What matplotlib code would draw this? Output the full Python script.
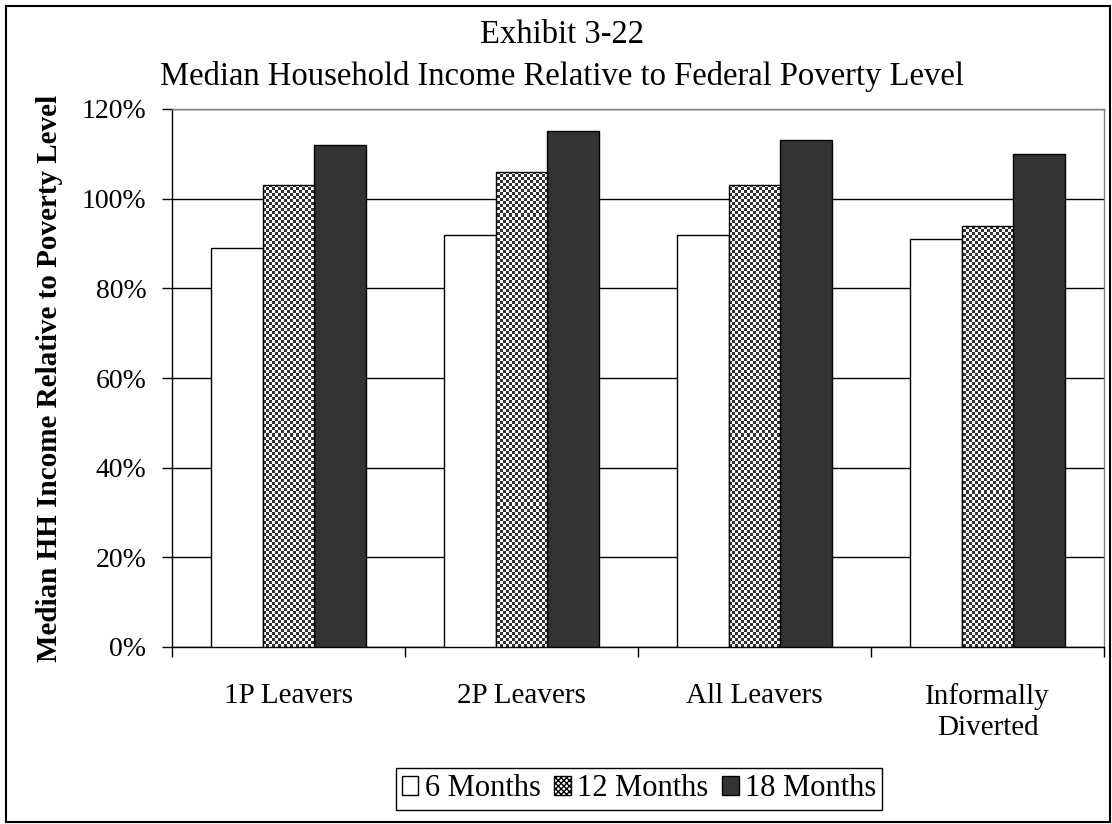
import numpy as np
import matplotlib
matplotlib.use("Agg")
import matplotlib.pyplot as plt
from matplotlib.lines import Line2D
from matplotlib.patches import Patch

# data (percent of federal poverty level)
categories = ["1P Leavers", "2P Leavers", "All Leavers", "Informally\nDiverted"]
series_names = ["6 Months", "12 Months", "18 Months"]
months_6 = [89, 92, 92, 91]
months_12 = [103, 106, 103, 94]
months_18 = [112, 115, 113, 110]
y_ticks = [0, 20, 40, 60, 80, 100, 120]

plt.rcParams['font.family'] = ['Liberation Serif', 'DejaVu Serif']
plt.rcParams['hatch.linewidth'] = 1.0
plt.rcParams['hatch.color'] = '#333333'

W, H = 1112, 824
fig = plt.figure(figsize=(W / 100, H / 100), dpi=100)
ax = fig.add_axes([172 / W, 1 - 647 / H, 932 / W, 538 / H])

x = np.arange(len(categories))
w = 1 / 4.5  # Excel gap width 150%

b1 = ax.bar(x - w, months_6, w, color='white', edgecolor='black', linewidth=1, zorder=3)
b2 = ax.bar(x, months_12, w, color='white', edgecolor='none', linewidth=0, zorder=3)
b3 = ax.bar(x + w, months_18, w, color='#333333', edgecolor='black', linewidth=1, zorder=3)

# fine checkerboard fill for the 12 month bars
ny, nx = 538 // 3, 932 // 3
checker = (np.indices((ny, nx)).sum(axis=0) % 2).astype(float)
for bar in b2:
    im = ax.imshow(checker, cmap='gray_r', vmin=0, vmax=1.25, extent=(-0.5, 3.5, 0, 120),
                   aspect='auto', interpolation='nearest', zorder=3.5)
    im.set_clip_path(bar)
ax.bar(x, months_12, w, fill=False, edgecolor='black', linewidth=1, zorder=4)
ax.set_xlim(-0.5, len(categories) - 0.5)
ax.set_ylim(0, 120)

ax.set_yticks(y_ticks)
ax.set_yticklabels([f"{t}%" for t in y_ticks], fontsize=20)
ax.yaxis.grid(True, color='black', linewidth=1, zorder=0)
ax.tick_params(axis='y', direction='out', length=7.5, width=1, pad=11)

# category boundaries as ticks, names at centres
ax.set_xticks(np.arange(len(categories) + 1) - 0.5)
ax.set_xticklabels([])
ax.set_xticks(x, minor=True)
ax.set_xticklabels(categories, minor=True, fontsize=21, linespacing=1.25, va='top')
ax.tick_params(axis='x', which='major', direction='out', length=7.5, width=1)
ax.tick_params(axis='x', which='minor', length=0, pad=26)

for s in ['left', 'bottom']:
    ax.spines[s].set_color('black')
    ax.spines[s].set_linewidth(1)
for s in ['top', 'right']:
    ax.spines[s].set_color('#808080')
    ax.spines[s].set_linewidth(1)

fig.text(50 / W, 1 - 378 / H, "Median HH Income Relative to Poverty Level",
         rotation=90, ha='center', va='center', fontsize=21, fontweight='bold')

fig.text(562 / W, 1 - 35 / H, "Exhibit 3-22", ha='center', va='center', fontsize=23.5)
fig.text(562 / W, 1 - 77 / H, "Median Household Income Relative to Federal Poverty Level",
         ha='center', va='center', fontsize=23.5)

handles = [Patch(facecolor='white', edgecolor='black', linewidth=1),
           Patch(facecolor='white', edgecolor='black', linewidth=1, hatch='xxxxxx'),
           Patch(facecolor='#333333', edgecolor='black', linewidth=1)]
leg = fig.legend(handles=handles, labels=series_names, loc='center',
                 bbox_to_anchor=(639 / W, 1 - 789 / H),
                 ncol=3, fontsize=22, frameon=True, fancybox=False, framealpha=1,
                 edgecolor='black', borderpad=0.2, handlelength=0.55, handleheight=0.55,
                 handletextpad=0.2, columnspacing=0.45, borderaxespad=0)
leg.get_frame().set_linewidth(1)

# chart-area border
bx0, by0, bx1, by1 = 6 / W, 1 - 6 / H, 1 - 2 / W, 2 / H
for xs, ys in [([bx0, bx1], [by0, by0]), ([bx0, bx0], [by1, by0]),
               ([bx1, bx1], [by1, by0]), ([bx0, bx1], [by1, by1])]:
    fig.add_artist(Line2D(xs, ys, color='black', linewidth=1.5, transform=fig.transFigure))

fig.savefig("out.png", dpi=100)
